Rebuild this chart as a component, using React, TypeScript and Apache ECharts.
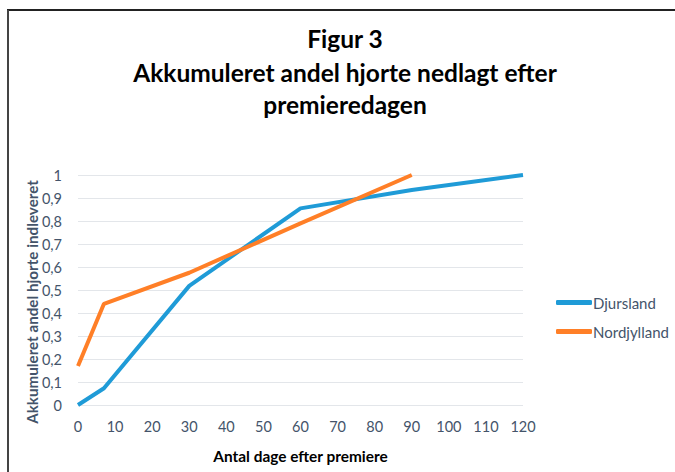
import React, { useEffect, useRef } from "react";
import * as echarts from "echarts";

const xDjursland = [0, 7, 30, 60, 90, 120];
const yDjursland = [0, 0.073, 0.518, 0.855, 0.935, 1];
const xNordjylland = [0, 7, 30, 60, 90];
const yNordjylland = [0.17, 0.44, 0.575, 0.79, 1];
const seriesNames = ["Djursland", "Nordjylland"];
const titleLines = ["Figur 3", "Akkumuleret andel hjorte nedlagt efter", "premieredagen"];
const xAxisName = "Antal dage efter premiere";
const yAxisName = "Akkumuleret andel hjorte indleveret";

const FONT = "Lato";
const LABEL = "#44546a";

export default function App() {
  const ref = useRef<HTMLDivElement>(null);
  useEffect(() => {
    document.body.style.margin = "0";
    const chart = echarts.init(ref.current!, null, { renderer: "svg" });
    const pair = (xs: number[], ys: number[]) => xs.map((x, i) => [x, ys[i]]);
    const titleCenters = [38, 72, 104];
    chart.setOption({
      animation: false,
      backgroundColor: "#ffffff",
      textStyle: { fontFamily: FONT },
      graphic: [
        { type: "line", shape: { x1: 7, y1: 10, x2: 675, y2: 10 }, style: { stroke: "#222", lineWidth: 2 } },
        { type: "line", shape: { x1: 8, y1: 10, x2: 8, y2: 472 }, style: { stroke: "#444", lineWidth: 2 } },
        ...titleLines.map((t, i) => ({
          type: "text",
          x: 345,
          y: titleCenters[i],
          style: {
            text: t,
            textAlign: "center",
            textVerticalAlign: "middle",
            font: `bold 24.5px ${FONT}`,
            fill: "#000000",
          },
        })),
        {
          type: "text",
          x: 32,
          y: 302,
          rotation: Math.PI / 2,
          style: {
            text: yAxisName,
            textAlign: "center",
            textVerticalAlign: "middle",
            font: `bold 15.2px ${FONT}`,
            fill: LABEL,
          },
        },
      ],
      legend: {
        orient: "vertical",
        left: 551,
        top: 290,
        itemWidth: 36,
        itemHeight: 5,
        itemGap: 14,
        icon: "roundRect",
        textStyle: { fontFamily: FONT, fontSize: 15, color: LABEL, padding: [0, 0, 0, -4] },
        data: seriesNames,
      },
      grid: { left: 78, right: 152, top: 175, bottom: 67 },
      xAxis: {
        type: "value",
        min: 0,
        max: 120,
        interval: 10,
        name: xAxisName,
        nameLocation: "middle",
        nameGap: 43,
        nameTextStyle: { fontFamily: FONT, fontSize: 15.4, fontWeight: "bold", color: "#000" },
        axisLine: { show: false },
        axisTick: { show: false },
        splitLine: { show: false },
        axisLabel: { fontFamily: FONT, fontSize: 14.5, color: LABEL, margin: 14 },
      },
      yAxis: {
        type: "value",
        min: 0,
        max: 1,
        interval: 0.1,
        axisLine: { show: false },
        axisTick: { show: false },
        splitLine: { lineStyle: { color: "#e3e6ea", width: 1 } },
        axisLabel: {
          fontFamily: FONT,
          fontSize: 14.5,
          color: LABEL,
          margin: 16,
          formatter: (v: number) => String(Math.round(v * 10) / 10).replace(".", ","),
        },
      },
      series: [
        {
          name: seriesNames[0],
          type: "line",
          data: pair(xDjursland, yDjursland),
          showSymbol: false,
          symbol: "none",
          lineStyle: { color: "#1f9bd7", width: 4 },
          itemStyle: { color: "#1f9bd7" },
        },
        {
          name: seriesNames[1],
          type: "line",
          data: pair(xNordjylland, yNordjylland),
          showSymbol: false,
          symbol: "none",
          lineStyle: { color: "#ff7f27", width: 4 },
          itemStyle: { color: "#ff7f27" },
        },
      ],
    });
    return () => chart.dispose();
  }, []);
  return <div ref={ref} style={{ width: 675, height: 472 }} />;
}
